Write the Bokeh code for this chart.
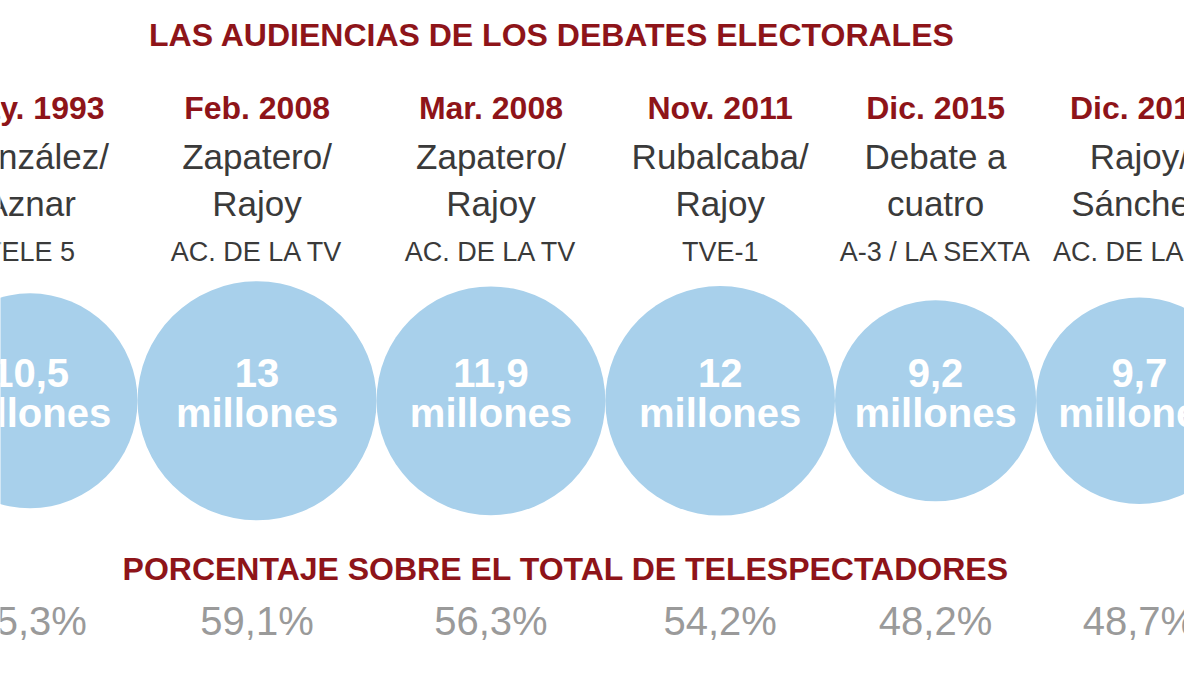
import math
from bokeh.plotting import figure
from bokeh.models import Range1d, ColumnDataSource
from bokeh.core.properties import value
from bokeh.embed import file_html
from bokeh.resources import INLINE

# ---------------- data ----------------
title_text = "LAS AUDIENCIAS DE LOS DEBATES ELECTORALES"
subtitle_text = "PORCENTAJE SOBRE EL TOTAL DE TELESPECTADORES"
dates = ["May. 1993", "Feb. 2008", "Mar. 2008", "Nov. 2011", "Dic. 2015", "Dic. 2015"]
names_line1 = ["González/", "Zapatero/", "Zapatero/", "Rubalcaba/", "Debate a", "Rajoy/"]
names_line2 = ["Aznar", "Rajoy", "Rajoy", "Rajoy", "cuatro", "Sánchez"]
channels = ["TELE 5", "AC. DE LA TV", "AC. DE LA TV", "TVE-1", "A-3 / LA SEXTA", "AC. DE LA TV"]
audience_millions = [10.5, 13, 11.9, 12, 9.2, 9.7]
share_pct = [65.3, 59.1, 56.3, 54.2, 48.2, 48.7]

# ---------------- style / layout ----------------
RED = "#8E1419"
DARK = "#3a3a3a"
GRAY = "#9a9a9a"
BLUE = "#A8D0EB"
FONT = value("Liberation Sans")
K = 33.6          # radius scale: r = K * sqrt(millions)  (area-proportional)
X0 = 30           # centre of first bubble
CY = 410          # bubble centre row

radii = [K * math.sqrt(v) for v in audience_millions]
xs = [X0]
for i in range(1, len(radii)):
    xs.append(xs[-1] + radii[i - 1] + radii[i])   # bubbles touch each other

def fmt(v):
    return f"{v:g}".replace(".", ",")

src = ColumnDataSource(dict(
    x=xs, r=radii, date=dates, n1=names_line1, n2=names_line2, ch=channels,
    val=[fmt(v) for v in audience_millions],
    mill=["millones"] * len(xs),
    pct=[fmt(v) + "%" for v in share_pct],
))

W, H = 1184, 659
p = figure(width=W, height=H, output_backend="svg", toolbar_location=None,
           x_range=Range1d(0, 1200), y_range=Range1d(675, 0),
           min_border=0, tools="")
p.axis.visible = False
p.grid.visible = False
p.outline_line_color = None
p.background_fill_color = "white"
p.border_fill_color = "white"

p.circle(x="x", y=CY, radius="r", source=src, fill_color=BLUE, line_color=None)

def row(col, y, size, color, bold=False):
    p.text(x="x", y=y, text=col, source=src, text_align="center",
           text_baseline="middle", text_font=FONT,
           text_font_size=value(f"{size}px"), text_color=color,
           text_font_style="bold" if bold else "normal")

row("date", 110, 32, RED, True)
row("n1", 160, 35, DARK)
row("n2", 208, 35, DARK)
row("ch", 258, 27, DARK)
row("val", 382, 40, "white", True)
row("mill", 423, 40, "white", True)
row("pct", 636, 40, GRAY)

p.text(x=[559], y=[35], text=[title_text], text_align="center", text_baseline="middle",
       text_font=FONT, text_font_size=value("32px"), text_font_style="bold", text_color=RED)
p.text(x=[573], y=[582], text=[subtitle_text], text_align="center", text_baseline="middle",
       text_font=FONT, text_font_size=value("32px"), text_font_style="bold", text_color=RED)

open("out.html", "w").write(file_html(p, INLINE))
